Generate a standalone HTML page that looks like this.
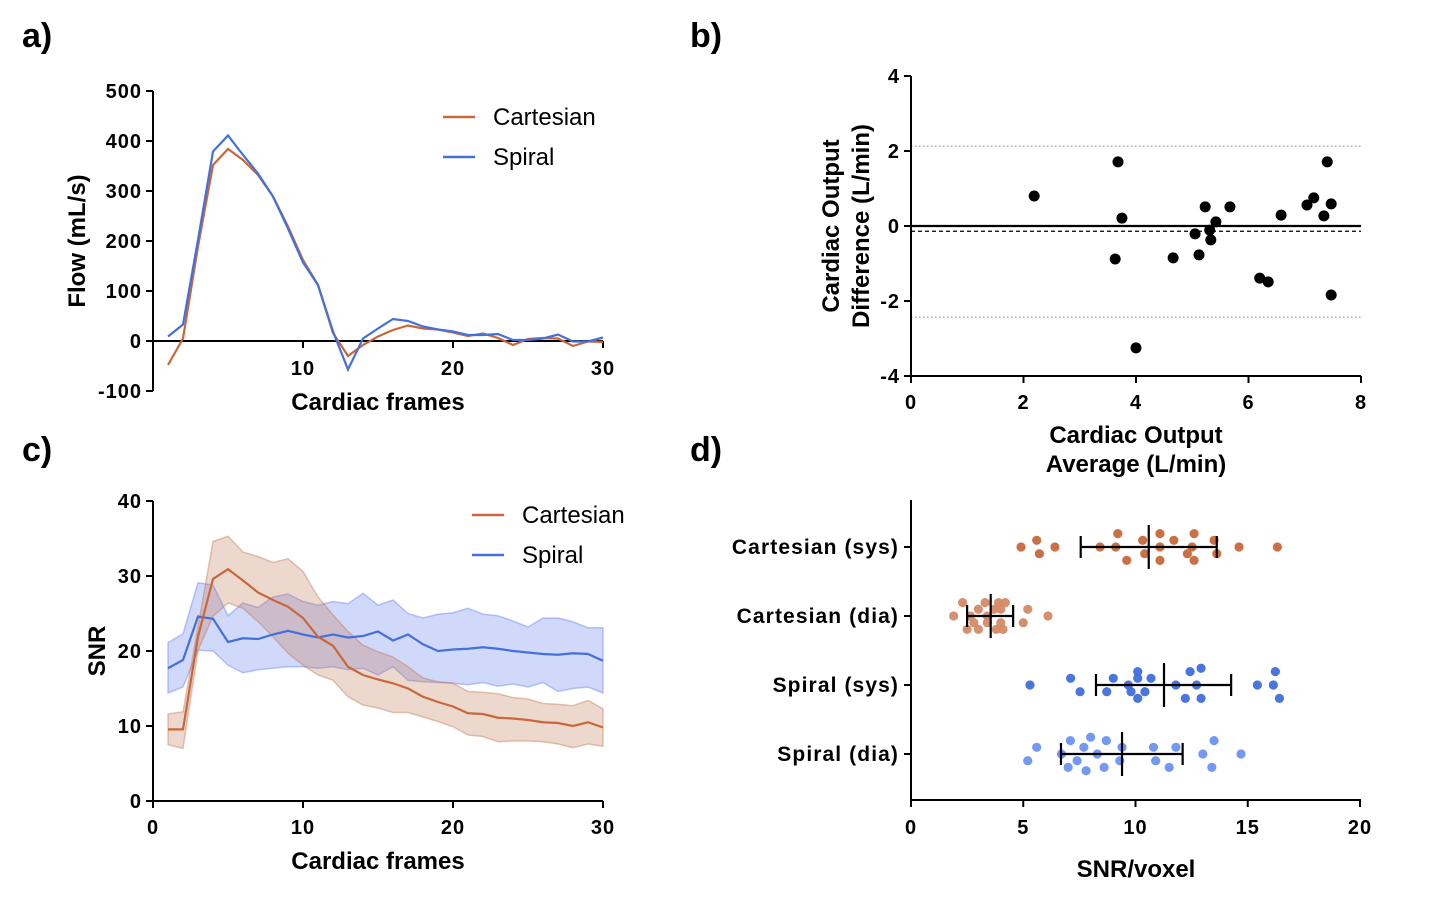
<!DOCTYPE html>
<html><head><meta charset="utf-8"><style>
body{margin:0;background:#fff;}
svg{display:block;font-family:"Liberation Sans",Arial,sans-serif;}
.tick{font-size:20px;font-weight:bold;fill:#000;letter-spacing:1px;}
.cat{font-size:21px;font-weight:bold;fill:#000;letter-spacing:1.1px;}
.title{font-size:24px;font-weight:bold;fill:#000;}
.leg{font-size:24px;fill:#000;}
.plabel{font-size:34px;font-weight:bold;fill:#000;}
</style></head><body>
<svg id="fig" width="1431" height="905" viewBox="0 0 1431 905">
<text class="plabel" x="22" y="47">a)</text>
<text class="plabel" x="690" y="47">b)</text>
<text class="plabel" x="22" y="461">c)</text>
<text class="plabel" x="690" y="461">d)</text>
<g id="pa"></g>
<g id="pb"></g>
<g id="pc"></g>
<g id="pd"></g>
</svg>
<script>
// ---- Panel a data
const frames = Array.from({length:30},(_,i)=>i+1);
const flowCart = [-48,5,189,352,384,362,332,289,229,162,112,16,-30,-8,9,22,31,25,23,17,10,15,6,-8,4,6,5,-10,-1,-2];
const flowSpiral = [9,33,202,379,411,372,335,289,225,157,112,19,-57,5,25,44,40,29,23,19,12,12,14,2,2,5,13,-1,-1,7];
const flowTicksY = [-100,0,100,200,300,400,500];
const flowTicksX = [10,20,30];
// ---- Panel b data
const baAvg = [2.19,3.68,3.75,3.63,4.0,4.66,5.05,5.12,5.23,5.31,5.33,5.42,5.67,6.20,6.35,6.58,7.04,7.16,7.40,7.34,7.47,7.47];
const baDiff = [0.80,1.71,0.21,-0.88,-3.25,-0.85,-0.21,-0.77,0.51,-0.11,-0.37,0.11,0.51,-1.39,-1.49,0.29,0.56,0.75,1.71,0.27,-1.84,0.59];
const baBias = -0.14, baUpper = 2.13, baLower = -2.43;
const baTicksX = [0,2,4,6,8], baTicksY = [-4,-2,0,2,4];
// ---- Panel c data
const snrCart = [9.55,9.55,21.9,29.6,30.9,29.4,27.8,26.8,25.9,24.4,21.9,20.7,17.9,16.8,16.2,15.7,15.0,13.9,13.2,12.6,11.7,11.6,11.1,11.0,10.8,10.5,10.4,10.0,10.5,9.8];
const snrCartHi = [11.6,11.9,23.2,34.6,35.3,33.2,32.6,31.8,32.3,30.6,27.2,24.8,22.6,20.8,19.9,19.2,17.9,16.4,15.9,15.7,14.6,14.5,14.3,13.8,13.6,13.0,12.9,12.7,13.4,12.3];
const snrCartLo = [7.5,7.0,20.1,24.6,26.4,25.7,23.9,21.9,19.7,18.1,16.8,16.1,13.9,12.8,12.4,11.8,11.8,11.2,10.6,9.9,8.8,8.6,7.9,8.0,8.0,7.9,7.6,7.1,7.6,7.3];
const snrSp = [17.7,18.8,24.6,24.3,21.2,21.7,21.6,22.2,22.7,22.2,21.8,22.2,21.8,22.0,22.6,21.4,22.2,20.9,20.0,20.2,20.3,20.5,20.3,20.0,19.8,19.6,19.5,19.7,19.6,18.7];
const snrSpHi = [21.1,22.3,29.1,28.8,24.7,26.4,25.8,27.2,27.6,26.6,26.1,26.6,26.3,27.7,26.1,26.8,25.0,24.4,24.9,25.1,25.7,24.9,24.7,24.0,23.2,24.4,24.4,23.9,23.1,23.1];
const snrSpLo = [14.4,15.2,20.1,20.0,18.1,17.1,17.5,17.7,17.9,17.9,17.7,17.9,17.5,17.7,16.8,17.9,16.1,15.9,15.8,15.7,15.5,15.8,15.3,15.6,15.2,15.8,14.6,15.0,15.2,14.4];
const snrTicksY = [0,10,20,30,40], snrTicksX = [0,10,20,30];
// ---- Panel d data
const dGroups = ["Cartesian (sys)","Cartesian (dia)","Spiral (sys)","Spiral (dia)"];
const dCartSys = [4.90,5.60,5.72,6.41,8.42,9.12,9.21,9.61,10.32,10.41,11.09,11.09,11.09,11.71,12.31,12.52,12.61,12.61,13.50,13.62,14.61,16.32];
const dCartSysJ = [0,-1,1,0,0,0,-2,2,-1,1,-2,0,2,-1,1,0,-2,2,-1,1,0,0];
const dCartDia = [1.9,2.3,2.5,2.65,2.8,3.0,3.0,3.3,3.4,3.4,3.7,3.8,3.9,4.0,4.1,4.2,4.0,5.0,5.2,6.1];
const dCartDiaJ = [0,-2,2,0,1,-1,2,-2,0,1,-1,2,-2,1,2,-2,-1,1,-1,0];
const dSpSys = [5.30,7.11,7.53,8.72,9.01,9.68,9.80,10.10,10.10,10.10,10.42,10.69,11.8,12.22,12.43,12.72,12.92,12.92,15.43,16.14,16.23,16.41];
const dSpSysJ = [0,-1,1,1,-1,0,1,-2,-1,2,1,-1,0,2,-2,0,-2.5,2,0,0,-2,2];
const dSpDia = [5.2,5.6,6.7,7.0,7.1,7.4,7.7,7.8,8.0,8.3,8.6,8.7,9.3,9.4,10.8,10.9,11.5,11.8,13.0,13.4,13.5,14.7];
const dSpDiaJ = [1,-1,0,2,-2,1,-1,2.5,-2.5,0,2,-2,1,-1,-1,1,2,-1,0,2,-2,0];
const dMean = [10.59,3.55,11.27,9.40];
const dLo = [7.56,2.5,8.24,6.68];
const dHi = [13.62,4.55,14.26,12.10];
const dTicksX = [0,5,10,15,20];

const NS="http://www.w3.org/2000/svg";
function mk(parent,tag,attrs,text){const e=document.createElementNS(NS,tag);for(const k in attrs)e.setAttribute(k,attrs[k]);if(text!==undefined)e.textContent=text;parent.appendChild(e);return e;}
const ORANGE="#c8683a", BLUE="#4470dc";

// ===== Panel a
(function(){
const g=document.getElementById('pa');
const X=v=>153+15*v, Y=v=>341-0.5*v;
let e=mk(g,'line',{x1:153,y1:Y(-100),x2:153,y2:Y(500),stroke:'#000','stroke-width':2});

e=mk(g,'line',{x1:153,y1:Y(0),x2:X(30),y2:Y(0),stroke:'#000','stroke-width':2});

flowTicksY.forEach(t=>{mk(g,'line',{x1:146,x2:153,y1:Y(t),y2:Y(t),stroke:'#000','stroke-width':2});
 e=mk(g,'text',{class:'tick',x:142,y:Y(t)+7,'text-anchor':'end'},t);
 });
flowTicksX.forEach(t=>{mk(g,'line',{x1:X(t),x2:X(t),y1:Y(0),y2:Y(0)+7,stroke:'#000','stroke-width':2});
 e=mk(g,'text',{class:'tick',x:X(t),y:375,'text-anchor':'middle'},t);
 });
e=mk(g,'text',{class:'title',x:378,y:410,'text-anchor':'middle'},'Cardiac frames');

e=mk(g,'text',{class:'title',transform:'translate(85,241) rotate(-90)','text-anchor':'middle'},'Flow (mL/s)');

e=mk(g,'polyline',{points:frames.map((f,i)=>X(f)+','+Y(flowCart[i])).join(' '),fill:'none',stroke:ORANGE,'stroke-width':2.2});

e=mk(g,'polyline',{points:frames.map((f,i)=>X(f)+','+Y(flowSpiral[i])).join(' '),fill:'none',stroke:BLUE,'stroke-width':2.2});

mk(g,'line',{x1:443,x2:475,y1:117,y2:117,stroke:ORANGE,'stroke-width':2.5});
e=mk(g,'text',{class:'leg',x:493,y:125},'Cartesian');
mk(g,'line',{x1:443,x2:475,y1:157,y2:157,stroke:BLUE,'stroke-width':2.5});
e=mk(g,'text',{class:'leg',x:493,y:165},'Spiral');
})();

// ===== Panel b
(function(){
const g=document.getElementById('pb');
const X=v=>911+56.25*v, Y=v=>226-37.5*v;
let e;
[baUpper,baLower].forEach(v=>{e=mk(g,'line',{x1:911,x2:1361,y1:Y(v),y2:Y(v),stroke:'#888','stroke-width':1,'stroke-dasharray':'1.5,2.5'});
 });
e=mk(g,'line',{x1:911,x2:1361,y1:Y(baBias),y2:Y(baBias),stroke:'#000','stroke-width':1.2,'stroke-dasharray':'4,3'});

e=mk(g,'line',{x1:911,x2:1361,y1:Y(0),y2:Y(0),stroke:'#000','stroke-width':2.2});

e=mk(g,'line',{x1:911,x2:911,y1:Y(4),y2:Y(-4),stroke:'#000','stroke-width':2});

e=mk(g,'line',{x1:911,x2:1361,y1:Y(-4),y2:Y(-4),stroke:'#000','stroke-width':2});

baTicksY.forEach(t=>{mk(g,'line',{x1:904,x2:911,y1:Y(t),y2:Y(t),stroke:'#000','stroke-width':2});
 e=mk(g,'text',{class:'tick',x:900,y:Y(t)+7,'text-anchor':'end'},t);});
baTicksX.forEach(t=>{mk(g,'line',{x1:X(t),x2:X(t),y1:376,y2:383,stroke:'#000','stroke-width':2});
 e=mk(g,'text',{class:'tick',x:X(t),y:409,'text-anchor':'middle'},t);});
baAvg.forEach((a,i)=>{e=mk(g,'circle',{cx:X(a),cy:Y(baDiff[i]),r:5.5,fill:'#000'});
 });
e=mk(g,'text',{class:'title',x:1136,y:443,'text-anchor':'middle'},'Cardiac Output');
e=mk(g,'text',{class:'title',x:1136,y:472,'text-anchor':'middle'},'Average (L/min)');
e=mk(g,'text',{class:'title',transform:'translate(839,226) rotate(-90)','text-anchor':'middle'},'Cardiac Output');
e=mk(g,'text',{class:'title',transform:'translate(869,226) rotate(-90)','text-anchor':'middle'},'Difference (L/min)');
})();

// ===== Panel c
(function(){
const g=document.getElementById('pc');
const X=v=>153+15*v, Y=v=>801-7.5*v;
let e;
const band=(hi,lo,col,name)=>{const pts=frames.map((f,i)=>X(f)+','+Y(hi[i])).concat(frames.slice().reverse().map((f,j)=>X(f)+','+Y(lo[lo.length-1-j])));
 e=mk(g,'polygon',{points:pts.join(' '),fill:col,'fill-opacity':0.28,stroke:col,'stroke-opacity':0.4,'stroke-width':1.5});
 };
band(snrSpHi,snrSpLo,'#5a78f0','spiral-band');
band(snrCartHi,snrCartLo,'#c0734a','cartesian-band');
e=mk(g,'polyline',{points:frames.map((f,i)=>X(f)+','+Y(snrSp[i])).join(' '),fill:'none',stroke:BLUE,'stroke-width':2.2});

e=mk(g,'polyline',{points:frames.map((f,i)=>X(f)+','+Y(snrCart[i])).join(' '),fill:'none',stroke:ORANGE,'stroke-width':2.2});

e=mk(g,'line',{x1:153,x2:153,y1:Y(40),y2:Y(0),stroke:'#000','stroke-width':2});
e=mk(g,'line',{x1:153,x2:X(30),y1:Y(0),y2:Y(0),stroke:'#000','stroke-width':2});
snrTicksY.forEach(t=>{mk(g,'line',{x1:146,x2:153,y1:Y(t),y2:Y(t),stroke:'#000','stroke-width':2});
 e=mk(g,'text',{class:'tick',x:142,y:Y(t)+7,'text-anchor':'end'},t);});
snrTicksX.forEach(t=>{mk(g,'line',{x1:X(t),x2:X(t),y1:801,y2:808,stroke:'#000','stroke-width':2});
 e=mk(g,'text',{class:'tick',x:X(t),y:834,'text-anchor':'middle'},t);});
e=mk(g,'text',{class:'title',x:378,y:869,'text-anchor':'middle'},'Cardiac frames');
e=mk(g,'text',{class:'title',transform:'translate(105,651) rotate(-90)','text-anchor':'middle'},'SNR');
mk(g,'line',{x1:472,x2:504,y1:515,y2:515,stroke:ORANGE,'stroke-width':2.5});
e=mk(g,'text',{class:'leg',x:522,y:523},'Cartesian');
mk(g,'line',{x1:472,x2:504,y1:555,y2:555,stroke:BLUE,'stroke-width':2.5});
e=mk(g,'text',{class:'leg',x:522,y:563},'Spiral');
})();

// ===== Panel d
(function(){
const g=document.getElementById('pd');
const X=v=>911+22.45*v;
const rowY=[547,616,685,754];
let e;
e=mk(g,'line',{x1:911,x2:911,y1:500,y2:800,stroke:'#000','stroke-width':2});
e=mk(g,'line',{x1:911,x2:1361,y1:800,y2:800,stroke:'#000','stroke-width':2});
dTicksX.forEach(t=>{mk(g,'line',{x1:X(t),x2:X(t),y1:800,y2:807,stroke:'#000','stroke-width':2});
 e=mk(g,'text',{class:'tick',x:X(t),y:834,'text-anchor':'middle'},t);});
dGroups.forEach((n,i)=>{mk(g,'line',{x1:904,x2:911,y1:rowY[i],y2:rowY[i],stroke:'#000','stroke-width':2});
 e=mk(g,'text',{class:'cat',x:899,y:rowY[i]+7,'text-anchor':'end'},n);});
e=mk(g,'text',{class:'title',x:1136,y:877,'text-anchor':'middle'},'SNR/voxel');
const sets=[[dCartSys,dCartSysJ,'#c8683a'],[dCartDia,dCartDiaJ,'#d48a65'],[dSpSys,dSpSysJ,'#3f6fdc'],[dSpDia,dSpDiaJ,'#6b93f2']];
sets.forEach((s,i)=>{s[0].forEach((v,j)=>{e=mk(g,'circle',{cx:X(v),cy:rowY[i]+s[1][j]*6.7,r:4.6,fill:s[2],'fill-opacity':0.95});
 });});
dGroups.forEach((n,i)=>{const y=rowY[i];
 e=mk(g,'line',{x1:X(dLo[i]),x2:X(dHi[i]),y1:y,y2:y,stroke:'#000','stroke-width':2.2});
 mk(g,'line',{x1:X(dLo[i]),x2:X(dLo[i]),y1:y-11,y2:y+11,stroke:'#000','stroke-width':2.2});
 mk(g,'line',{x1:X(dHi[i]),x2:X(dHi[i]),y1:y-11,y2:y+11,stroke:'#000','stroke-width':2.2});
 e=mk(g,'line',{x1:X(dMean[i]),x2:X(dMean[i]),y1:y-22,y2:y+22,stroke:'#000','stroke-width':2.2});});
})();
</script>
</body></html>
